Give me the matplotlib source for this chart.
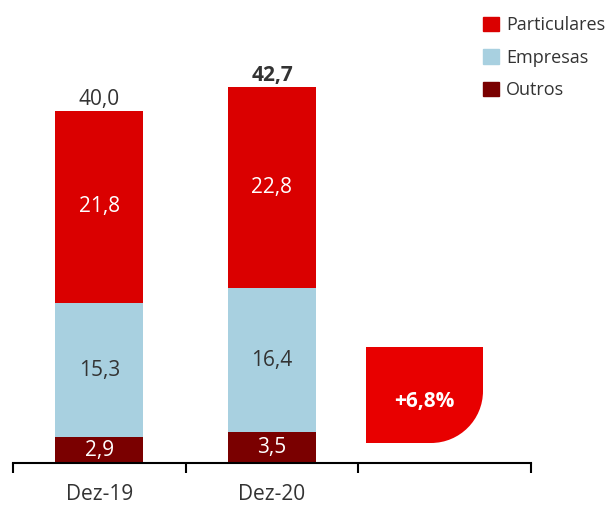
import matplotlib
matplotlib.use("Agg")
import matplotlib.pyplot as plt
from matplotlib.path import Path
from matplotlib.patches import PathPatch, Patch
import numpy as np

plt.rcParams['font.family'] = ['Open Sans', 'DejaVu Sans']

categories = ["Dez-19", "Dez-20", ""]
particulares = [21.8, 22.8]
empresas = [15.3, 16.4]
outros = [2.9, 3.5]
totals = [40.0, 42.7]
growth_label = "+6,8%"

c_part = "#DA0000"
c_emp = "#A8D0E0"
c_out = "#7A0000"
c_badge = "#E80000"
txt = "#333333"

W, H = 609, 508
fig = plt.figure(figsize=(W / 100, H / 100), dpi=100)
ax_l, ax_r, ax_b, ax_t = 13, 531, 463, 20
ax = fig.add_axes([ax_l / W, (H - ax_b) / H, (ax_r - ax_l) / W, (ax_b - ax_t) / H])

pxu = 8.8
ax.set_ylim(0, (ax_b - ax_t) / pxu)
ax.set_xlim(-0.5, 2.5)

x = np.arange(len(outros))
w = 0.51
ax.bar(x, outros, w, color=c_out)
ax.bar(x, empresas, w, bottom=outros, color=c_emp)
b2 = np.array(outros) + np.array(empresas)
ax.bar(x, particulares, w, bottom=b2, color=c_part)

fs = 15
for i in range(len(x)):
    ax.text(x[i], outros[i] / 2, f"{outros[i]:.1f}".replace(".", ","), ha="center", va="center",
            color="white", fontsize=fs)
    ax.text(x[i], outros[i] + empresas[i] / 2, f"{empresas[i]:.1f}".replace(".", ","), ha="center",
            va="center", color=txt, fontsize=fs)
    ax.text(x[i], b2[i] + particulares[i] / 2, f"{particulares[i]:.1f}".replace(".", ","), ha="center",
            va="center", color="white", fontsize=fs)
    ax.text(x[i], totals[i] + 0.1, f"{totals[i]:.1f}".replace(".", ","), ha="center", va="bottom",
            color=txt, fontsize=fs, fontweight="bold" if i == 1 else "normal")

for s in ["top", "right", "left"]:
    ax.spines[s].set_visible(False)
ax.spines["bottom"].set_linewidth(1.5)
ax.set_yticks([])
ax.set_xticks([-0.5, 0.5, 1.5, 2.5])
ax.set_xticklabels([])
ax.set_xticks(np.arange(len(categories)), categories, minor=True)
ax.tick_params(axis="x", which="major", direction="out", length=7, width=1.5)
ax.tick_params(axis="x", which="minor", length=0, pad=15, labelsize=15, labelcolor=txt)

# badge with rounded bottom-right corner (figure pixel coordinates -> figure fraction)
x0, x1, ytop, ybot = 366, 483, 347, 443
r = 52
k = 0.5523
pts = [(x0, ytop), (x1, ytop), (x1, ybot - r),
       (x1, ybot - r + k * r), (x1 - r + k * r, ybot), (x1 - r, ybot),
       (x0, ybot), (x0, ytop)]
codes = [Path.MOVETO, Path.LINETO, Path.LINETO, Path.CURVE4, Path.CURVE4, Path.CURVE4,
         Path.LINETO, Path.CLOSEPOLY]
verts = [(px / W, (H - py) / H) for px, py in pts]
fig.patches.append(PathPatch(Path(verts, codes), facecolor=c_badge, edgecolor="none",
                             transform=fig.transFigure))
fig.text(((x0 + x1) / 2) / W, (H - 401) / H, growth_label, ha="center", va="center",
         color="white", fontsize=15, fontweight="bold")

handles = [Patch(color=c_part), Patch(color=c_emp), Patch(color=c_out)]
fig.legend(handles, ["Particulares", "Empresas", "Outros"], loc="upper left",
           bbox_to_anchor=(476 / W, 1 - 9 / H), frameon=False, fontsize=13,
           handlelength=0.85, handleheight=0.85, handletextpad=0.4, labelspacing=0.8,
           labelcolor=txt, borderaxespad=0)

fig.savefig("out.png", dpi=100)
